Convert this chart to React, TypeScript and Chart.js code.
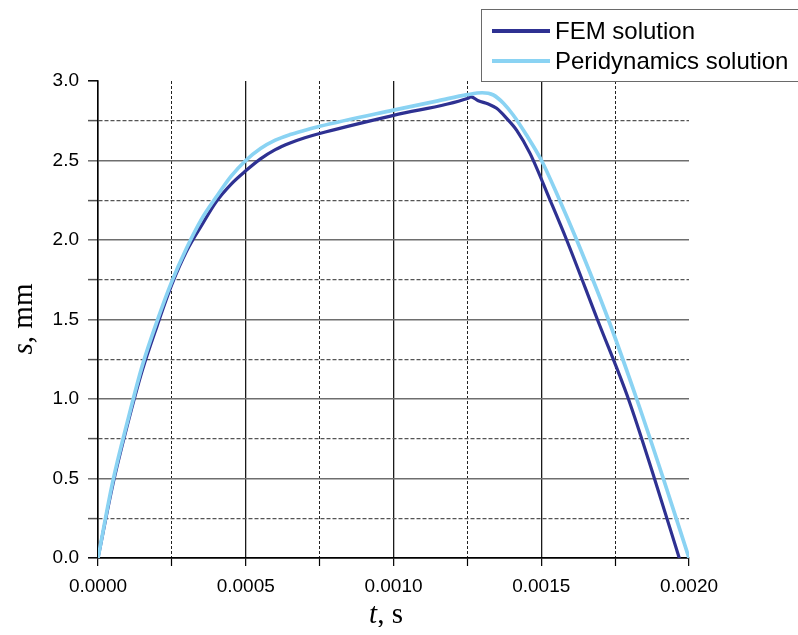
import React, { useEffect, useRef } from "react";
import { Chart, registerables } from "chart.js";

Chart.register(...registerables);

// ---- data ----
const seriesNames = ["FEM solution", "Peridynamics solution"];

const femT = [
  0, 0.00005, 0.0001, 0.00015, 0.0002, 0.00025, 0.0003, 0.00035, 0.0004, 0.00045,
  0.0005, 0.00055, 0.0006, 0.00065, 0.0007, 0.00075, 0.001, 0.00125, 0.001262,
  0.001287, 0.001321, 0.001349, 0.001383, 0.001417, 0.001462, 0.00153, 0.001586,
  0.00169, 0.001795, 0.001883, 0.001967,
];
const femS = [
  0, 0.46, 0.84, 1.18, 1.46, 1.72, 1.93, 2.09, 2.24, 2.35, 2.435, 2.51, 2.568, 2.61,
  2.643, 2.67, 2.784, 2.89, 2.9, 2.876, 2.855, 2.828, 2.765, 2.69, 2.545, 2.25, 2.0, 1.5,
  1.0, 0.5, 0,
];

const periT = [
  0, 0.00005, 0.0001, 0.00015, 0.0002, 0.00025, 0.0003, 0.00035, 0.0004, 0.00045,
  0.0005, 0.00055, 0.0006, 0.00065, 0.0007, 0.00075, 0.001, 0.00115, 0.00125, 0.0013,
  0.001338, 0.001372, 0.001405, 0.00145, 0.0015, 0.00156, 0.00162, 0.001727, 0.001823,
  0.001913, 0.002,
];
const periS = [
  0, 0.48, 0.86, 1.21, 1.49, 1.74, 1.95, 2.13, 2.27, 2.4, 2.5, 2.575, 2.628, 2.663, 2.69,
  2.715, 2.817, 2.875, 2.914, 2.926, 2.912, 2.86, 2.786, 2.66, 2.503, 2.26, 2.0, 1.5,
  1.0, 0.5, 0,
];

const xTickLabels = ["0.0000", "0.0005", "0.0010", "0.0015", "0.0020"];
const yTickLabels = ["0.0", "0.5", "1.0", "1.5", "2.0", "2.5", "3.0"];

const X_MAJOR = 0.0005;
const X_MINOR = 0.00025;
const Y_MAJOR = 0.5;
const Y_MINOR = 0.25;
const X_MAX = 0.002;
const Y_MAX = 3;

const FEM_COLOR = "#2e3192";
const PERI_COLOR = "#8ad3f3";

const isMultiple = (v: number, step: number) =>
  Math.abs(v / step - Math.round(v / step)) < 1e-6;

export default function App() {
  const canvasRef = useRef<HTMLCanvasElement | null>(null);

  useEffect(() => {
    const canvas = canvasRef.current;
    if (!canvas) return;

    const chart = new Chart(canvas, {
      type: "line",
      data: {
        datasets: [
          {
            label: seriesNames[0],
            data: femT.map((t, i) => ({ x: t, y: femS[i] })),
            borderColor: FEM_COLOR,
            backgroundColor: FEM_COLOR,
            borderWidth: 3.2,
            pointRadius: 0,
            cubicInterpolationMode: "monotone",
            borderJoinStyle: "round",
            borderCapStyle: "round",
            order: 1,
          },
          {
            label: seriesNames[1],
            data: periT.map((t, i) => ({ x: t, y: periS[i] })),
            borderColor: PERI_COLOR,
            backgroundColor: PERI_COLOR,
            borderWidth: 3.7,
            pointRadius: 0,
            cubicInterpolationMode: "monotone",
            borderJoinStyle: "round",
            borderCapStyle: "round",
            order: 0,
          },
        ],
      },
      options: {
        animation: false,
        responsive: false,
        devicePixelRatio: 1,
        events: [],
        layout: { padding: { left: 0, top: 73, right: 101, bottom: 0 } },
        plugins: {
          legend: { display: false },
          tooltip: { enabled: false },
        },
        scales: {
          x: {
            type: "linear",
            min: 0,
            max: X_MAX,
            afterFit: (scale: any) => {
              scale.height = 69;
            },
            ticks: {
              stepSize: X_MINOR,
              maxTicksLimit: 20,
              autoSkip: false,
              maxRotation: 0,
              minRotation: 0,
              padding: 9,
              color: "#000",
              font: { family: "'Liberation Sans', Arial, sans-serif", size: 19 },
              callback: (value: any) => {
                const v = Number(value);
                if (!isMultiple(v, X_MAJOR)) return "";
                return xTickLabels[Math.round(v / X_MAJOR)] ?? "";
              },
            },
            grid: {
              drawOnChartArea: true,
              drawTicks: true,
              tickLength: 8,
              color: (ctx: any) => {
                const v = ctx.tick ? ctx.tick.value : 0;
                if (Math.abs(v - X_MAX) < 1e-9) return "rgba(0,0,0,0)";
                if (Math.abs(v) < 1e-9) return "#000";
                return isMultiple(v, X_MAJOR) ? "#1a1a1a" : "#222";
              },
              tickColor: "#000",
              lineWidth: (ctx: any) => {
                const v = ctx.tick ? ctx.tick.value : 0;
                return isMultiple(v, X_MAJOR) ? 1.3 : 1;
              },
              tickWidth: 1.2,
            },
            border: {
              display: true,
              color: "#000",
              width: 1.5,
              dash: (ctx: any) => {
                if (!ctx.tick) return [];
                return isMultiple(ctx.tick.value, X_MAJOR) ? [] : [3, 2];
              },
            },
          },
          y: {
            type: "linear",
            min: 0,
            max: Y_MAX,
            afterFit: (scale: any) => {
              scale.width = 90;
            },
            ticks: {
              stepSize: Y_MINOR,
              maxTicksLimit: 20,
              autoSkip: false,
              padding: 9,
              color: "#000",
              font: { family: "'Liberation Sans', Arial, sans-serif", size: 19 },
              callback: (value: any) => {
                const v = Number(value);
                if (!isMultiple(v, Y_MAJOR)) return "";
                return yTickLabels[Math.round(v / Y_MAJOR)] ?? "";
              },
            },
            grid: {
              drawOnChartArea: true,
              drawTicks: true,
              tickLength: 10,
              color: (ctx: any) => {
                const v = ctx.tick ? ctx.tick.value : 0;
                if (Math.abs(v - Y_MAX) < 1e-9) return "rgba(0,0,0,0)";
                if (Math.abs(v) < 1e-9) return "#000";
                return isMultiple(v, Y_MAJOR) ? "#6e6e6e" : "#555";
              },
              tickColor: (ctx: any) => {
                const v = ctx.tick ? ctx.tick.value : 0;
                if (Math.abs(v - Y_MAX) < 1e-9 || Math.abs(v) < 1e-9) return "#000";
                return isMultiple(v, Y_MAJOR) ? "#6e6e6e" : "#555";
              },
              lineWidth: (ctx: any) => {
                const v = ctx.tick ? ctx.tick.value : 0;
                return isMultiple(v, Y_MAJOR) ? 1.6 : 1.2;
              },
              tickWidth: 1.5,
            },
            border: {
              display: true,
              color: "#000",
              width: 1.5,
              dash: (ctx: any) => {
                if (!ctx.tick) return [];
                return isMultiple(ctx.tick.value, Y_MAJOR) ? [] : [4, 2];
              },
            },
          },
        },
      } as any,
    });

    return () => {
      chart.destroy();
    };
  }, []);

  const serif = "'Liberation Serif', 'Times New Roman', serif";
  const sans = "'Liberation Sans', Arial, sans-serif";

  return (
    <div style={{ position: "relative", width: 782, height: 619, overflow: "hidden" }}>
      <canvas
        ref={canvasRef}
        width={782}
        height={619}
        style={{ position: "absolute", left: 0, top: 0, width: 782, height: 619 }}
      />
      {/* y-axis title */}
      <div
        style={{
          position: "absolute",
          left: 22 - 8 - 75,
          top: 319 - 8 - 16,
          width: 150,
          height: 32,
          lineHeight: "32px",
          textAlign: "center",
          transform: "rotate(-90deg)",
          transformOrigin: "50% 50%",
          fontFamily: serif,
          fontSize: 29,
          color: "#000",
          whiteSpace: "nowrap",
        }}
      >
        <i>s</i>, mm
      </div>
      {/* x-axis title */}
      <div
        style={{
          position: "absolute",
          left: 386 - 8 - 75,
          top: 613 - 8 - 16,
          width: 150,
          height: 32,
          lineHeight: "32px",
          textAlign: "center",
          fontFamily: serif,
          fontSize: 29,
          color: "#000",
          whiteSpace: "nowrap",
        }}
      >
        <i>t</i>, s
      </div>
      {/* legend */}
      <div
        style={{
          position: "fixed",
          left: 481,
          top: 9,
          width: 340,
          height: 71,
          borderTop: "1.5px solid #6a6a6a",
          borderLeft: "1.5px solid #6a6a6a",
          borderBottom: "1.5px solid #6a6a6a",
          fontFamily: sans,
          fontSize: 24,
          color: "#000",
        }}
      >
        {seriesNames.map((name, i) => (
          <div
            key={name}
            style={{
              position: "absolute",
              left: 10,
              top: i === 0 ? 6 : 36,
              height: 30,
              display: "flex",
              alignItems: "center",
              whiteSpace: "nowrap",
            }}
          >
            <span
              style={{
                display: "inline-block",
                width: 58,
                height: 4,
                background: i === 0 ? FEM_COLOR : PERI_COLOR,
                marginRight: 5,
              }}
            />
            <span>{name}</span>
          </div>
        ))}
      </div>
    </div>
  );
}
